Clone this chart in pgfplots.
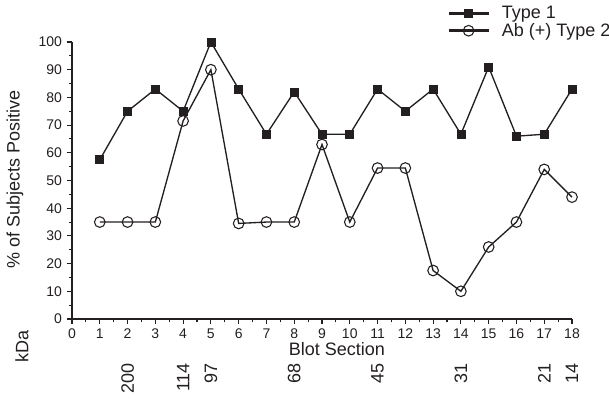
\documentclass[border=0pt]{standalone}
\usepackage{fontspec}
\setmainfont{Liberation Sans}
\usepackage{pgfplots}
\pgfplotsset{compat=1.18}
\definecolor{ink}{HTML}{231F20}

\begin{document}
\begin{tikzpicture}[x=1pt,y=1pt]
\begin{axis}[
    scale only axis,
    width=375pt, height=207.75pt,
    xmin=0, xmax=18, ymin=0, ymax=100,
    clip=false,
    axis lines*=left,
    xtick pos=bottom, ytick pos=left,
    tick align=outside,
    xtick={0,1,...,18}, minor x tick num=1,
    ytick={0,10,...,100}, minor y tick num=1,
    major tick length=4pt, minor tick length=2.5pt,
    axis line style={ink, line width=1pt},
    every tick/.style={ink, line width=0.8pt},
    /pgf/number format/assume math mode=true,
    ticklabel style={font=\fontsize{10.5}{12}\selectfont, text=ink},
    ylabel={\% of Subjects Positive},
    ylabel style={at={(axis description cs:-0.114,0.505)}, anchor=center,
      font=\fontsize{13.5}{15}\selectfont, text=ink},
    xlabel={Blot Section},
    xlabel style={at={(axis description cs:0.53,-0.108)}, anchor=center,
      font=\fontsize{13.5}{15}\selectfont, text=ink},
    legend style={draw=none, fill=none, at={(axis description cs:0.75,1.14)},
      anchor=north west, inner sep=0pt, row sep=-2pt,
      font=\fontsize{13.5}{15}\selectfont, text=ink,
      /tikz/every odd column/.append style={column sep=7pt}},
    legend cell align=left,
    legend image code/.code={
      \draw[mark repeat=2,mark phase=2,#1,line width=2pt]
        plot coordinates {(0pt,0pt) (15pt,0pt) (30pt,0pt)};},
]
% Type 1
\addplot[ink, line width=1pt, mark=square*, mark size=3pt,
  mark options={fill=ink, line width=0.5pt}]
  coordinates {(1,57.5) (2,75) (3,83) (4,75) (5,100) (6,83) (7,66.7) (8,82)
    (9,66.7) (10,66.7) (11,83) (12,75) (13,83) (14,66.7) (15,91) (16,66)
    (17,66.7) (18,83)};
% Ab (+) Type 2
\addplot[ink, line width=1pt, mark=o, mark size=4pt,
  mark options={fill=white, line width=0.8pt}]
  coordinates {(1,35) (2,35) (3,35) (4,71.5) (5,90) (6,34.5) (7,35) (8,35)
    (9,63) (10,35) (11,54.5) (12,54.5) (13,17.5) (14,10) (15,26) (16,35)
    (17,54) (18,44)};
\legend{Type 1, Ab (+) Type 2}

% molecular weight markers
\begin{scope}[every node/.style={rotate=90, anchor=east, text=ink,
    font=\fontsize{13.5}{15}\selectfont, inner sep=0pt}]
\node at (axis cs:2,-15.8) {200};
\node at (axis cs:4,-15.8) {114};
\node at (axis cs:5,-15.8) {97};
\node at (axis cs:8,-15.8) {68};
\node at (axis cs:11,-15.8) {45};
\node at (axis cs:14,-15.8) {31};
\node at (axis cs:17,-15.8) {21};
\node at (axis cs:18,-15.8) {14};
\end{scope}
\node[rotate=90, anchor=center, text=ink, font=\fontsize{13.5}{15}\selectfont]
  at (axis description cs:-0.1,-0.1) {kDa};

\coordinate (bbll) at (axis cs:-2.592,-31.05);
\coordinate (bbur) at (axis cs:19.332,115.16);
\end{axis}
\pgfresetboundingbox
\path[use as bounding box] (bbll) rectangle (bbur);
\end{tikzpicture}
\end{document}
